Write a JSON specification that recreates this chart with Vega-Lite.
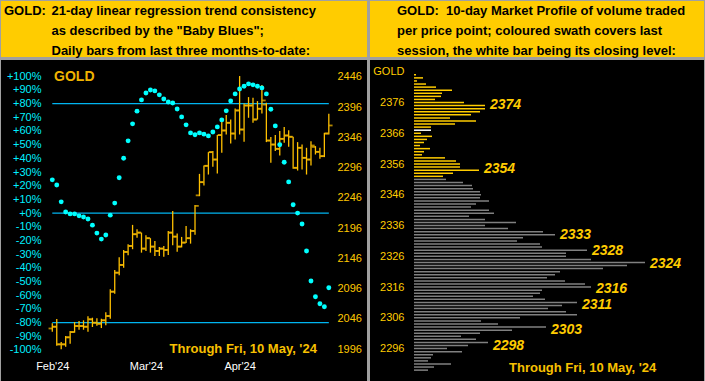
{
  "$schema": "https://vega.github.io/schema/vega-lite/v6.json",
  "background": "#A0A0A0",
  "padding": 1,
  "spacing": 2,
  "config": {
    "view": {"stroke": null},
    "font": "Liberation Sans",
    "axis": {"domain": false, "ticks": false, "tickSize": 0, "grid": false, "zindex": 1, "labelFont": "Liberation Sans", "labelFontSize": 11, "labelOverlap": false, "labelFlush": false}
  },
  "datasets": {
    "hdrL": [
      {"col": 0, "line": 0, "t": "GOLD:"},
      {"col": 1, "line": 0, "t": "21-day linear regression trend consistency"},
      {"col": 1, "line": 1, "t": "as described by the \"Baby Blues\";"},
      {"col": 1, "line": 2, "t": "Daily bars from last three months-to-date:"}
    ],
    "hdrR": [
      {"col": 0, "line": 0, "t": "GOLD:\u00a0 10-day Market Profile of volume traded"},
      {"col": 0, "line": 1, "t": "per price point; coloured swath covers last"},
      {"col": 0, "line": 2, "t": "session, the white bar being its closing level:"}
    ],
    "bars": [
      {"i":0,"o":2030,"h":2038.5,"l":2024.6,"c":2032.9},
      {"i":1,"o":2032.9,"h":2045.6,"l":2001.5,"c":2003.8},
      {"i":2,"o":2003.8,"h":2007.6,"l":1995.5,"c":2003.8},
      {"i":3,"o":2003.8,"h":2017.5,"l":1999.8,"c":2015.4},
      {"i":4,"o":2015.4,"h":2025.8,"l":2004.8,"c":2024.1},
      {"i":5,"o":2024.1,"h":2040.7,"l":2023,"c":2034.1},
      {"i":6,"o":2034.1,"h":2042.3,"l":2027.9,"c":2034.1},
      {"i":7,"o":2034.1,"h":2043.5,"l":2027.9,"c":2032.9},
      {"i":8,"o":2032.9,"h":2050.1,"l":2024.6,"c":2045.1},
      {"i":9,"o":2045.1,"h":2047.8,"l":2032.4,"c":2039.5},
      {"i":10,"o":2039.5,"h":2046.8,"l":2034.5,"c":2037.9},
      {"i":11,"o":2037.9,"h":2046.1,"l":2030.7,"c":2043.5},
      {"i":12,"o":2043.5,"h":2056.7,"l":2035.2,"c":2050.6},
      {"i":13,"o":2050.6,"h":2094.8,"l":2046.1,"c":2090.8},
      {"i":14,"o":2090.8,"h":2126.7,"l":2087.5,"c":2122.2},
      {"i":15,"o":2122.2,"h":2147.7,"l":2117.9,"c":2135},
      {"i":16,"o":2135,"h":2159.8,"l":2130.5,"c":2156.5},
      {"i":17,"o":2156.5,"h":2169.2,"l":2151,"c":2166.4},
      {"i":18,"o":2166.4,"h":2201.2,"l":2161,"c":2185.8},
      {"i":19,"o":2185.8,"h":2194,"l":2180.1,"c":2188.4},
      {"i":20,"o":2188.4,"h":2188.4,"l":2155.3,"c":2162},
      {"i":21,"o":2162,"h":2184.1,"l":2158.1,"c":2179.2},
      {"i":22,"o":2179.2,"h":2179.2,"l":2155.3,"c":2165.3},
      {"i":23,"o":2165.3,"h":2174.7,"l":2149.9,"c":2158.1},
      {"i":24,"o":2158.1,"h":2164.8,"l":2149.9,"c":2162},
      {"i":25,"o":2162,"h":2166.4,"l":2148.7,"c":2159.8},
      {"i":26,"o":2159.8,"h":2191.2,"l":2151.5,"c":2188.4},
      {"i":27,"o":2188.4,"h":2224.3,"l":2167.6,"c":2181.8},
      {"i":28,"o":2181.8,"h":2186.8,"l":2157,"c":2165.3},
      {"i":29,"o":2165.3,"h":2181.3,"l":2164,"c":2171.9},
      {"i":30,"o":2171.9,"h":2199.5,"l":2171.4,"c":2179.2},
      {"i":31,"o":2179.2,"h":2194,"l":2170.2,"c":2191.2},
      {"i":32,"o":2191.2,"h":2234.2,"l":2185.1,"c":2232.6},
      {"i":33,"o":2250,"h":2285.5,"l":2248.6,"c":2271.8},
      {"i":34,"o":2271.8,"h":2299.3,"l":2266.2,"c":2298.8},
      {"i":35,"o":2298.8,"h":2321.4,"l":2284.4,"c":2321.4},
      {"i":36,"o":2321.4,"h":2323.1,"l":2297.1,"c":2309.2},
      {"i":37,"o":2309.2,"h":2349.6,"l":2286,"c":2349.6},
      {"i":38,"o":2349.6,"h":2375.4,"l":2320.3,"c":2357.2},
      {"i":39,"o":2357.2,"h":2382.7,"l":2350.6,"c":2369.9},
      {"i":40,"o":2369.9,"h":2375.4,"l":2335.7,"c":2352.2},
      {"i":41,"o":2352.2,"h":2393.6,"l":2342.3,"c":2390.3},
      {"i":42,"o":2390.3,"h":2447.2,"l":2350.6,"c":2358.8},
      {"i":43,"o":2358.8,"h":2401.8,"l":2338.5,"c":2398.5},
      {"i":44,"o":2398.5,"h":2412.4,"l":2378.2,"c":2398.5},
      {"i":45,"o":2398.5,"h":2411.3,"l":2369.9,"c":2375.4},
      {"i":46,"o":2375.4,"h":2405.8,"l":2375.4,"c":2393.1},
      {"i":47,"o":2393.1,"h":2432.3,"l":2385.3,"c":2406.8},
      {"i":48,"o":2400,"h":2403,"l":2338,"c":2340.6},
      {"i":49,"o":2340.6,"h":2346.3,"l":2303.7,"c":2334},
      {"i":50,"o":2334,"h":2349.6,"l":2323.1,"c":2326.9},
      {"i":51,"o":2326.9,"h":2356.2,"l":2315.8,"c":2343.4},
      {"i":52,"o":2343.4,"h":2362.8,"l":2336.8,"c":2348.9},
      {"i":53,"o":2348.9,"h":2357.8,"l":2330.2,"c":2346.8},
      {"i":54,"o":2346.8,"h":2346.8,"l":2293.8,"c":2295.5},
      {"i":55,"o":2295.5,"h":2338,"l":2291,"c":2328.6},
      {"i":56,"o":2328.6,"h":2334,"l":2292.7,"c":2312},
      {"i":57,"o":2312,"h":2328.6,"l":2284.4,"c":2309.2},
      {"i":58,"o":2309.2,"h":2339.6,"l":2299.3,"c":2332.4},
      {"i":59,"o":2330,"h":2331.4,"l":2317.5,"c":2321.9},
      {"i":60,"o":2321.9,"h":2328.6,"l":2310.4,"c":2314.8},
      {"i":61,"o":2314.8,"h":2353.4,"l":2313.2,"c":2352.2},
      {"i":62,"o":2352.2,"h":2384.8,"l":2350.6,"c":2365.5}
    ],
    "blues": [
      {"i":0,"v":24.3},{"i":1,"v":20.5},{"i":2,"v":8.2},{"i":3,"v":0.8},{"i":4,"v":-0.6},
      {"i":5,"v":-0.6},{"i":6,"v":-2},{"i":7,"v":-2.8},{"i":8,"v":-4.3},{"i":9,"v":-8.8},
      {"i":10,"v":-14.6},{"i":11,"v":-19},{"i":12,"v":-16},{"i":13,"v":-1.5},{"i":14,"v":7.3},
      {"i":15,"v":25.8},{"i":16,"v":40.1},{"i":17,"v":52.8},{"i":18,"v":65.2},{"i":19,"v":74.5},
      {"i":20,"v":82.7},{"i":21,"v":87.8},{"i":22,"v":90},{"i":23,"v":89.3},{"i":24,"v":86.4},
      {"i":25,"v":83.4},{"i":26,"v":81.2},{"i":27,"v":80.5},{"i":28,"v":76.1},{"i":29,"v":70.3},
      {"i":30,"v":64.5},{"i":31,"v":58.6},{"i":32,"v":57.2},{"i":33,"v":58.6},{"i":34,"v":57.7},
      {"i":35,"v":56.4},{"i":36,"v":59.3},{"i":37,"v":63},{"i":38,"v":68.1},{"i":39,"v":74.7},
      {"i":40,"v":82},{"i":41,"v":87.1},{"i":42,"v":90.7},{"i":43,"v":92.7},{"i":44,"v":94.4},
      {"i":45,"v":93.7},{"i":46,"v":92.7},{"i":47,"v":91.5},{"i":48,"v":87.1},{"i":49,"v":75.9},
      {"i":50,"v":63.7},{"i":51,"v":49.9},{"i":52,"v":37.2},{"i":53,"v":22.8},{"i":54,"v":6.1},
      {"i":55,"v":0},{"i":56,"v":-8},{"i":57,"v":-27.7},{"i":58,"v":-49.6},{"i":59,"v":-61.1},
      {"i":60,"v":-66.2},{"i":61,"v":-68.4},{"i":62,"v":-54.5}
    ],
    "profile": [
      {"p":2385,"v":2,"k":"session"},{"p":2384,"v":9,"k":"session"},{"p":2383,"v":3,"k":"session"},
      {"p":2382,"v":12,"k":"session"},{"p":2381,"v":22,"k":"session"},{"p":2380,"v":38,"k":"session"},
      {"p":2379,"v":28,"k":"session"},{"p":2378,"v":27,"k":"session"},{"p":2377,"v":21,"k":"session"},
      {"p":2376,"v":50,"k":"session"},{"p":2375,"v":71,"k":"session"},{"p":2374,"v":71,"k":"session","lab":true},
      {"p":2373,"v":66,"k":"session"},{"p":2372,"v":57,"k":"session"},{"p":2371,"v":36,"k":"session"},
      {"p":2370,"v":62,"k":"session"},{"p":2369,"v":41,"k":"session"},{"p":2368,"v":17,"k":"session"},
      {"p":2367,"v":17,"k":"close"},{"p":2366,"v":7,"k":"session"},{"p":2365,"v":18,"k":"session"},
      {"p":2364,"v":13,"k":"session"},{"p":2363,"v":10,"k":"session"},{"p":2362,"v":6,"k":"session"},
      {"p":2361,"v":16,"k":"session"},{"p":2360,"v":10,"k":"session"},{"p":2359,"v":8,"k":"session"},
      {"p":2358,"v":31,"k":"session"},{"p":2357,"v":42,"k":"session"},{"p":2356,"v":46,"k":"session"},
      {"p":2355,"v":46,"k":"session"},{"p":2354,"v":65,"k":"session","lab":true},{"p":2353,"v":39,"k":"session"},
      {"p":2352,"v":29,"k":"session"},
      {"p":2351,"v":32,"k":"prior"},{"p":2350,"v":49,"k":"prior"},{"p":2349,"v":58,"k":"prior"},
      {"p":2348,"v":59,"k":"prior"},{"p":2347,"v":66,"k":"prior"},{"p":2346,"v":67,"k":"prior"},
      {"p":2345,"v":66,"k":"prior"},{"p":2344,"v":75,"k":"prior"},{"p":2343,"v":62,"k":"prior"},
      {"p":2342,"v":57,"k":"prior"},{"p":2341,"v":75,"k":"prior"},{"p":2340,"v":80,"k":"prior"},
      {"p":2339,"v":55,"k":"prior"},{"p":2338,"v":71,"k":"prior"},{"p":2337,"v":102,"k":"prior"},
      {"p":2336,"v":71,"k":"prior"},{"p":2335,"v":94,"k":"prior"},{"p":2334,"v":129,"k":"prior"},
      {"p":2333,"v":141,"k":"prior","lab":true},{"p":2332,"v":109,"k":"prior"},{"p":2331,"v":103,"k":"prior"},
      {"p":2330,"v":126,"k":"prior"},{"p":2329,"v":128,"k":"prior"},{"p":2328,"v":173,"k":"prior","lab":true},
      {"p":2327,"v":152,"k":"prior"},{"p":2326,"v":152,"k":"prior"},{"p":2325,"v":177,"k":"prior"},
      {"p":2324,"v":231,"k":"prior","lab":true},{"p":2323,"v":213,"k":"prior"},{"p":2322,"v":189,"k":"prior"},
      {"p":2321,"v":146,"k":"prior"},{"p":2320,"v":141,"k":"prior"},{"p":2319,"v":133,"k":"prior"},
      {"p":2318,"v":151,"k":"prior"},{"p":2317,"v":171,"k":"prior"},{"p":2316,"v":177,"k":"prior","lab":true},
      {"p":2315,"v":128,"k":"prior"},{"p":2314,"v":126,"k":"prior"},{"p":2313,"v":119,"k":"prior"},
      {"p":2312,"v":131,"k":"prior"},{"p":2311,"v":163,"k":"prior","lab":true},{"p":2310,"v":148,"k":"prior"},
      {"p":2309,"v":134,"k":"prior"},{"p":2308,"v":152,"k":"prior"},{"p":2307,"v":163,"k":"prior"},
      {"p":2306,"v":106,"k":"prior"},{"p":2305,"v":67,"k":"prior"},{"p":2304,"v":84,"k":"prior"},
      {"p":2303,"v":132,"k":"prior","lab":true},{"p":2302,"v":98,"k":"prior"},{"p":2301,"v":66,"k":"prior"},
      {"p":2300,"v":47,"k":"prior"},{"p":2299,"v":62,"k":"prior"},{"p":2298,"v":74,"k":"prior","lab":true},
      {"p":2297,"v":54,"k":"prior"},{"p":2296,"v":33,"k":"prior"},{"p":2295,"v":48,"k":"prior"},
      {"p":2294,"v":19,"k":"prior"},{"p":2293,"v":17,"k":"prior"},{"p":2292,"v":14,"k":"prior"},
      {"p":2291,"v":37,"k":"prior"},{"p":2290,"v":20,"k":"prior"},{"p":2289,"v":14,"k":"prior"}
    ]
  },
  "vconcat": [
    {
      "spacing": 3,
      "hconcat": [
        {
          "width": 366, "height": 56,
          "view": {"fill": "#FFCC00"},
          "data": {"name": "hdrL"},
          "mark": {"type": "text", "align": "left", "baseline": "middle", "font": "Liberation Sans", "fontWeight": "bold", "fontSize": 13, "color": "#000000"},
          "encoding": {
            "x": {"field": "col", "type": "quantitative", "scale": {"domain": [0, 1], "range": [3, 50.5]}, "axis": null},
            "y": {"field": "line", "type": "quantitative", "scale": {"domain": [0, 2], "range": [10, 49.7]}, "axis": null},
            "text": {"field": "t"}
          }
        },
        {
          "width": 334, "height": 56,
          "view": {"fill": "#FFCC00"},
          "data": {"name": "hdrR"},
          "mark": {"type": "text", "align": "left", "baseline": "middle", "font": "Liberation Sans", "fontWeight": "bold", "fontSize": 13, "color": "#000000"},
          "encoding": {
            "x": {"field": "col", "type": "quantitative", "scale": {"domain": [0, 1], "range": [27, 60]}, "axis": null},
            "y": {"field": "line", "type": "quantitative", "scale": {"domain": [0, 2], "range": [10, 49.7]}, "axis": null},
            "text": {"field": "t"}
          }
        }
      ]
    },
    {
      "spacing": 3,
      "hconcat": [
        {
          "width": 366, "height": 321,
          "view": {"fill": "#000000"},
          "layer": [
            {
              "data": {"name": "blues"},
              "transform": [{"aggregate": [{"op": "min", "field": "i", "as": "i0"}, {"op": "max", "field": "i", "as": "i1"}]}],
              "encoding": {
                "x": {"field": "i0", "type": "quantitative", "scale": {"domain": [-11.5, 70.56], "nice": false, "zero": false}, "axis": null},
                "x2": {"field": "i1"}
              },
              "layer": [
                {"mark": {"type": "rule", "color": "#00B4F0", "strokeWidth": 1.3},
                 "encoding": {"y": {"datum": 80, "type": "quantitative", "scale": {"domain": [-122.69, 111.87], "nice": false, "zero": false}, "axis": null}}},
                {"mark": {"type": "rule", "color": "#00B4F0", "strokeWidth": 1.3},
                 "encoding": {"y": {"datum": 0, "type": "quantitative", "scale": {"domain": [-122.69, 111.87], "nice": false, "zero": false}, "axis": null}}},
                {"mark": {"type": "rule", "color": "#00B4F0", "strokeWidth": 1.3},
                 "encoding": {"y": {"datum": -80, "type": "quantitative", "scale": {"domain": [-122.69, 111.87], "nice": false, "zero": false}, "axis": null}}}
              ]
            },
            {
              "data": {"name": "bars"},
              "encoding": {
                "x": {"field": "i", "type": "quantitative", "scale": {"domain": [-11.5, 70.56], "nice": false, "zero": false}, "axis": null},
                "y": {"type": "quantitative", "scale": {"domain": [1943.2, 2473.69], "nice": false, "zero": false},
                      "axis": {"orient": "right", "values": [1996, 2046, 2096, 2146, 2196, 2246, 2296, 2346, 2396, 2446], "format": "d", "labelColor": "#FFC800", "labelPadding": -30, "labelAlign": "left", "title": null}}
              },
              "layer": [
                {
                  "mark": {"type": "rule", "color": "#FFC000", "strokeWidth": 1.3},
                  "encoding": {"y": {"field": "l"}, "y2": {"field": "h"}}
                },
                {
                  "mark": {"type": "tick", "orient": "horizontal", "size": 3.5, "thickness": 1.8, "xOffset": -2, "color": "#FFC000"},
                  "encoding": {"y": {"field": "o"}}
                },
                {
                  "mark": {"type": "tick", "orient": "horizontal", "size": 3.5, "thickness": 1.8, "xOffset": 2, "color": "#FFC000"},
                  "encoding": {"y": {"field": "c"}}
                }
              ]
            },
            {
              "data": {"name": "blues"},
              "mark": {"type": "circle", "size": 24, "color": "#00FFFF", "opacity": 1},
              "encoding": {
                "x": {"field": "i", "type": "quantitative", "scale": {"domain": [-11.5, 70.56], "nice": false, "zero": false},
                      "axis": {"orient": "bottom", "values": [0, 21, 42], "labelExpr": "datum.value == 0 ? \"Feb'24\" : datum.value == 21 ? \"Mar'24\" : \"Apr'24\"", "labelColor": "#FFFFFF", "labelPadding": -21, "labelAlign": "center", "labelBaseline": "top", "title": null}},
                "y": {"field": "v", "type": "quantitative", "scale": {"domain": [-122.69, 111.87], "nice": false, "zero": false},
                      "axis": {"orient": "left", "values": [-100,-90,-80,-70,-60,-50,-40,-30,-20,-10,0,10,20,30,40,50,60,70,80,90,100], "labelExpr": "(datum.value >= 0 ? '+' : '') + datum.value + '%'", "labelColor": "#00F0FF", "labelPadding": -40, "labelAlign": "right", "title": null}}
              }
            },
            {
              "layer": [
                {
                  "data": {"values": [{"t": "GOLD"}]},
                  "mark": {"type": "text", "align": "left", "baseline": "middle", "fontSize": 14, "fontWeight": "bold", "color": "#F0B400"},
                  "encoding": {
                    "x": {"datum": 0.4, "type": "quantitative", "scale": {"domain": [-11.5, 70.56], "nice": false, "zero": false}, "axis": null},
                    "y": {"datum": 99.5, "type": "quantitative", "scale": {"domain": [-122.69, 111.87], "nice": false, "zero": false}, "axis": null},
                    "text": {"field": "t"}
                  }
                },
                {
                  "data": {"values": [{"t": "Through Fri, 10 May, '24"}]},
                  "mark": {"type": "text", "align": "left", "baseline": "middle", "fontSize": 13, "fontWeight": "bold", "color": "#F8C000"},
                  "encoding": {
                    "x": {"datum": 26.3, "type": "quantitative", "scale": {"domain": [-11.5, 70.56], "nice": false, "zero": false}, "axis": null},
                    "y": {"datum": -99.5, "type": "quantitative", "scale": {"domain": [-122.69, 111.87], "nice": false, "zero": false}, "axis": null},
                    "text": {"field": "t"}
                  }
                }
              ]
            }
          ],
          "resolve": {"scale": {"x": "independent", "y": "independent"}, "axis": {"x": "independent", "y": "independent"}}
        },
        {
          "width": 334, "height": 321,
          "view": {"fill": "#000000"},
          "layer": [
            {
              "data": {"name": "profile"},
              "mark": {"type": "bar", "orient": "horizontal", "size": 1.5},
              "encoding": {
                "x": {"field": "v", "type": "quantitative", "scale": {"domain": [-44, 290], "nice": false, "zero": false}, "axis": null},
                "y": {"field": "p", "type": "quantitative", "scale": {"domain": [2287.09, 2388.19], "nice": false, "zero": false},
                      "axis": {"orient": "left", "values": [2296, 2306, 2316, 2326, 2336, 2346, 2356, 2366, 2376, 2386], "format": "d", "labelExpr": "datum.value == 2386 ? 'GOLD' : datum.label", "labelColor": "#FFCC00", "labelPadding": -34, "labelAlign": "right", "title": null}},
                "color": {"field": "k", "type": "nominal", "scale": {"domain": ["session", "prior", "close"], "range": ["#FFCC00", "#808080", "#FFFFFF"]}, "legend": null}
              }
            },
            {
              "data": {"name": "profile"},
              "transform": [{"filter": "datum.lab"}],
              "mark": {"type": "text", "align": "left", "baseline": "middle", "dx": 5, "fontSize": 14, "fontWeight": "bold", "fontStyle": "italic", "color": "#FFCC00"},
              "encoding": {
                "x": {"field": "v", "type": "quantitative", "scale": {"domain": [-44, 290], "nice": false, "zero": false}, "axis": null},
                "y": {"field": "p", "type": "quantitative", "scale": {"domain": [2287.09, 2388.19], "nice": false, "zero": false}, "axis": null},
                "text": {"field": "p", "type": "quantitative", "format": "d"}
              }
            },
            {
              "data": {"values": [{"t": "Through Fri, 10 May, '24"}]},
              "mark": {"type": "text", "align": "left", "baseline": "middle", "fontSize": 13, "fontWeight": "bold", "color": "#F8C000"},
              "encoding": {
                "x": {"datum": 95, "type": "quantitative", "scale": {"domain": [-44, 290], "nice": false, "zero": false}, "axis": null},
                "y": {"datum": 2291.3, "type": "quantitative", "scale": {"domain": [2287.09, 2388.19], "nice": false, "zero": false}, "axis": null},
                "text": {"field": "t"}
              }
            }
          ],
          "resolve": {"scale": {"x": "independent", "y": "independent"}, "axis": {"x": "independent", "y": "independent"}}
        }
      ]
    }
  ]
}
